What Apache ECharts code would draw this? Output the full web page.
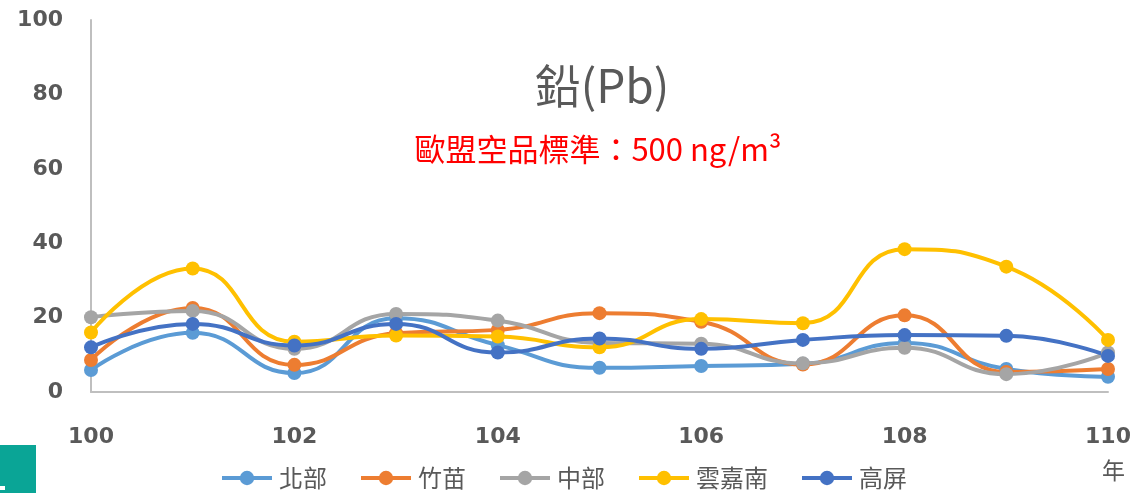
<!DOCTYPE html>
<html>
<head>
<meta charset="utf-8">
<script src="https://cdn.jsdelivr.net/npm/echarts@6/dist/echarts.min.js"></script>
<style>
  html, body { margin: 0; padding: 0; background: #fff; }
  #main { width: 1135px; height: 493px; }
</style>
</head>
<body>
<div id="main"></div>
<script>
// 年份 (民國)
const years = ['100', '101', '102', '103', '104', '105', '106', '107', '108', '109', '110']
const yTicks = [0, 20, 40, 60, 80, 100]

// 各區鉛濃度
const north = [5.9, 15.9, 5.1, 19.8, 12.6, 6.5, 7.0, 7.6, 13.2, 6.2, 4.1]
const zhumiao = [8.6, 22.6, 7.3, 15.8, 16.7, 21.2, 18.9, 7.4, 20.6, 5.4, 6.2]
const central = [20.1, 21.8, 11.6, 21.0, 19.2, 13.2, 13.0, 7.7, 11.9, 4.8, 10.6]
const yunjianan = [16.0, 33.2, 13.5, 15.2, 14.9, 12.0, 19.6, 18.5, 38.4, 33.7, 14.0]
const gaoping = [12.0, 18.3, 12.5, 18.3, 10.6, 14.4, 11.6, 14.0, 15.3, 15.1, 9.7]

const seriesList = [
  { name: '北部', data: north, color: '#5B9BD5' },
  { name: '竹苗', data: zhumiao, color: '#ED7D31' },
  { name: '中部', data: central, color: '#A5A5A5' },
  { name: '雲嘉南', data: yunjianan, color: '#FFC000' },
  { name: '高屏', data: gaoping, color: '#4472C4' }
]

const chart = echarts.init(document.getElementById('main'))
chart.setOption({
  animation: false,
  title: [
    {
      text: '鉛(Pb)',
      left: 597,
      textAlign: 'center',
      top: 58,
      textStyle: { fontFamily: 'Noto Sans CJK TC', fontSize: 46, fontWeight: 'normal', color: '#595959' }
    },
    {
      text: '歐盟空品標準：500 ng/m³',
      left: 593,
      textAlign: 'center',
      top: 129,
      textStyle: { fontFamily: 'Noto Sans CJK TC', fontSize: 31, fontWeight: 'normal', color: '#FF0000' }
    }
  ],
  grid: { left: 91, right: 27, top: 20, bottom: 101 },
  legend: {
    top: 461,
    left: 215,
    itemWidth: 50,
    itemHeight: 18,
    itemGap: 32,
    lineStyle: { width: 4 },
    textStyle: { fontFamily: 'Noto Sans CJK TC', fontSize: 24, color: '#595959', padding: [0, 0, 0, 2] },
    data: seriesList.map(s => s.name)
  },
  xAxis: {
    type: 'category',
    data: years,
    boundaryGap: false,
    axisLine: { lineStyle: { color: '#BFBFBF', width: 2 } },
    axisTick: { show: false },
    axisLabel: {
      interval: 1,
      margin: 34,
      fontFamily: 'DejaVu Sans',
      fontWeight: 'bold',
      fontSize: 22,
      color: '#595959'
    }
  },
  yAxis: {
    type: 'value',
    min: yTicks[0],
    max: yTicks[yTicks.length - 1],
    interval: 20,
    axisLine: { show: true, lineStyle: { color: '#BFBFBF', width: 2 } },
    axisTick: { show: false },
    splitLine: { show: false },
    axisLabel: {
      margin: 28,
      fontFamily: 'DejaVu Sans',
      fontWeight: 'bold',
      fontSize: 22,
      color: '#595959'
    }
  },
  graphic: [
    {
      type: 'text',
      left: 1102,
      top: 459,
      style: { text: '年', fontFamily: 'Noto Sans CJK TC', fontSize: 23, fill: '#595959' }
    },
    {
      type: 'rect',
      shape: { x: 0, y: 445, width: 36, height: 48 },
      style: { fill: '#0AA596' }
    },
    {
      type: 'rect',
      shape: { x: 0, y: 486, width: 5, height: 4 },
      style: { fill: '#ffffff' }
    }
  ],
  series: seriesList.map(s => ({
    name: s.name,
    type: 'line',
    data: s.data,
    smooth: 0.5,
    symbol: 'circle',
    symbolSize: 14,
    lineStyle: { width: 4, color: s.color },
    itemStyle: { color: s.color }
  }))
})
</script>
</body>
</html>
